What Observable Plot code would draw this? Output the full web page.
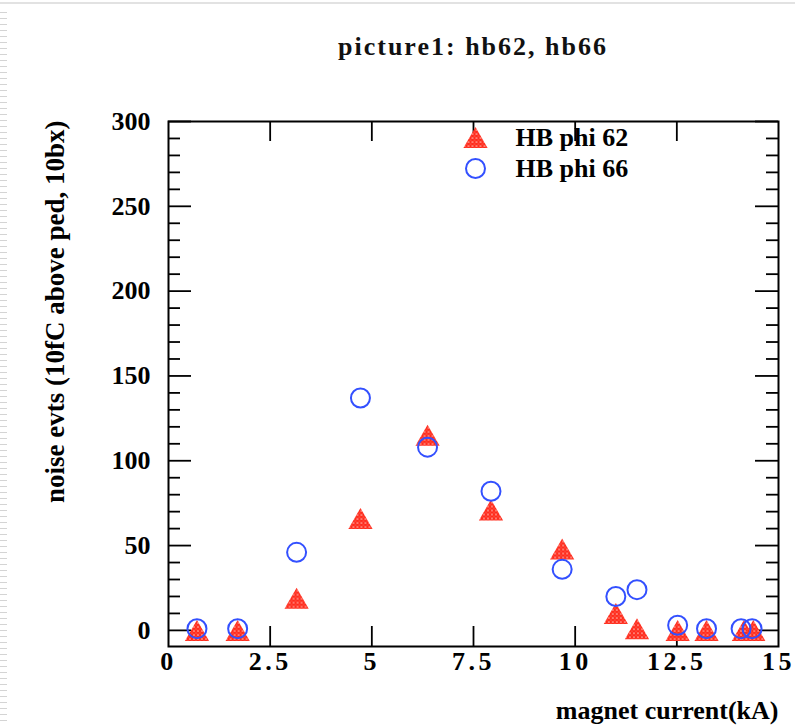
<!DOCTYPE html>
<html><head><meta charset="utf-8">
<script src="https://cdn.jsdelivr.net/npm/d3@7"></script>
<script src="https://cdn.jsdelivr.net/npm/@observablehq/plot@0.6"></script>
<style>
html,body{margin:0;padding:0;background:#fff;}
#wrap{position:relative;width:795px;height:726px;overflow:hidden;background:#fff;font-family:"Liberation Serif","DejaVu Serif",serif;}
#topline{position:absolute;left:0;top:2px;width:795px;height:2px;background:#e2e2e2;z-index:2;}
#leftrule{position:absolute;left:0;top:12px;width:7px;bottom:0;background:repeating-linear-gradient(to bottom,#d4d4d4 0,#d4d4d4 1px,transparent 1px,transparent 6px);z-index:2;}
#title{position:absolute;top:34px;left:473px;transform:translateX(-50%);white-space:nowrap;font-size:26px;font-weight:bold;line-height:26px;letter-spacing:2px;color:#111;}
#chart{position:absolute;left:0;top:100px;z-index:1;}
</style></head><body>
<div id="wrap">
<div id="topline"></div><div id="leftrule"></div>
<div id="title"></div>
<div id="chart"></div>
</div>
<script>
const titleText = "picture1: hb62, hb66";
const xLabel = "magnet current(kA)";
const yLabel = "noise evts (10fC above ped, 10bx)";
const seriesNames = ["HB phi 62", "HB phi 66"];

// HB phi 62 (red triangles)
const x62 = [0.7, 1.7, 3.15, 4.72, 6.37, 7.93, 9.68, 11.0, 11.52, 12.52, 13.23, 14.15, 14.38];
const y62 = [0, 0, 19, 66, 115, 71, 48, 10, 1, 0, 0, 0, 0];
// HB phi 66 (blue circles)
const x66 = [0.7, 1.7, 3.15, 4.72, 6.37, 7.93, 9.68, 11.0, 11.52, 12.52, 13.23, 14.08, 14.35];
const y66 = [1, 1, 46, 137, 108, 82, 36, 20, 24, 3, 1, 1, 1];

const xTicks = [0, 2.5, 5, 7.5, 10, 12.5, 15];
const xTickLabels = ["0", "2.5", "5", "7.5", "10", "12.5", "15"];
const yTicks = [0, 50, 100, 150, 200, 250, 300];
const yTickLabels = ["0", "50", "100", "150", "200", "250", "300"];
const yMinorTicks = [10,20,30,40,60,70,80,90,110,120,130,140,160,170,180,190,210,220,230,240,260,270,280,290];

document.getElementById("title").textContent = titleText;

const W = 795, H = 626, ML = 168, MR = 17, MT = 21, MB = 80;
const FW = W - ML - MR, FH = H - MT - MB;
const FONT = '"Liberation Serif","DejaVu Serif",serif';
const RED = "#ff2b1c", BLUE = "#3350ff";

const d62 = x62.map((x, i) => ({x, y: y62[i]}));
const d66 = x66.map((x, i) => ({x, y: y66[i]}));
const tickStyle = {stroke: "black", strokeWidth: 1.8};
const innerX = xTicks.slice(1, -1);

const plot = Plot.plot({
  width: W, height: H,
  marginLeft: ML, marginRight: MR, marginTop: MT, marginBottom: MB,
  x: {domain: [0, 15], label: null},
  y: {domain: [-9.5, 300], label: null},
  style: {fontFamily: FONT, fontSize: "26px", fontWeight: "bold", color: "black", background: "white", overflow: "visible"},
  marks: [
    Plot.ruleY(yTicks, {...tickStyle, insetRight: FW - 23}),
    Plot.ruleY(yTicks, {...tickStyle, insetLeft: FW - 23}),
    Plot.ruleY(yMinorTicks, {...tickStyle, insetRight: FW - 12}),
    Plot.ruleY(yMinorTicks, {...tickStyle, insetLeft: FW - 12}),
    Plot.ruleX(innerX, {...tickStyle, insetTop: FH - 20}),
    Plot.ruleX(innerX, {...tickStyle, insetBottom: FH - 20}),
    Plot.axisY({ticks: yTicks, anchor: "left", tickSize: 0, tickPadding: 18, label: null,
      tickFormat: d => yTickLabels[yTicks.indexOf(d)], fontSize: 26}),
    Plot.axisX({ticks: xTicks, anchor: "bottom", tickSize: 0, tickPadding: 5, label: null,
      tickFormat: d => xTickLabels[xTicks.indexOf(d)], fontSize: 26}),
    Plot.frame({stroke: "black", strokeWidth: 2}),
    Plot.dot(d62, {x: "x", y: "y", symbol: "triangle", r: 9, dy: 3.5, fill: "url(#hatch)", stroke: "none"}),
    Plot.dot(d66, {x: "x", y: "y", symbol: "circle", r: 9.5, fill: "none", stroke: BLUE, strokeWidth: 2}),
    // legend
    Plot.dot([seriesNames[0]], {frameAnchor: "top-left", dx: 307, dy: 19.5, symbol: "triangle", r: 9, fill: "url(#hatch)", stroke: "none"}),
    Plot.dot([seriesNames[1]], {frameAnchor: "top-left", dx: 307, dy: 47, symbol: "circle", r: 9.5, fill: "none", stroke: BLUE, strokeWidth: 2}),
    Plot.text([seriesNames[0]], {frameAnchor: "top-left", dx: 347, dy: 16, text: d => d, textAnchor: "start", lineAnchor: "middle", fontSize: 26, ariaLabel: "legendtext"}),
    Plot.text([seriesNames[1]], {frameAnchor: "top-left", dx: 347, dy: 47, text: d => d, textAnchor: "start", lineAnchor: "middle", fontSize: 26, ariaLabel: "legendtext"}),
    // axis titles
    Plot.text([xLabel], {frameAnchor: "bottom-right", dy: 64, text: d => d, textAnchor: "end", lineAnchor: "middle", fontSize: 26, ariaLabel: "xtitle"}),
    Plot.text([yLabel], {frameAnchor: "top-left", dx: -113, dy: -1, rotate: -90, text: d => d, textAnchor: "end", lineAnchor: "middle", fontSize: 27, ariaLabel: "ytitle"})
  ]
});

const svg = d3.select(plot);
svg.insert("defs", ":first-child").html(
  `<pattern id="hatch" width="4" height="4" patternUnits="userSpaceOnUse">
     <rect width="4" height="4" fill="${RED}"/>
     <circle cx="1" cy="1" r="0.85" fill="#ffc4bc"/>
     <circle cx="3" cy="3" r="0.6" fill="#ff8c80"/>
   </pattern>`);
svg.selectAll('g[aria-label="x-axis tick label"] text').style("letter-spacing", "3.5px");
svg.selectAll('g[aria-label="legendtext"] text').style("letter-spacing", "1.8px");
svg.selectAll('g[aria-label="xtitle"] text').style("letter-spacing", "2.4px");

document.getElementById("chart").appendChild(plot);
</script>
</body></html>
